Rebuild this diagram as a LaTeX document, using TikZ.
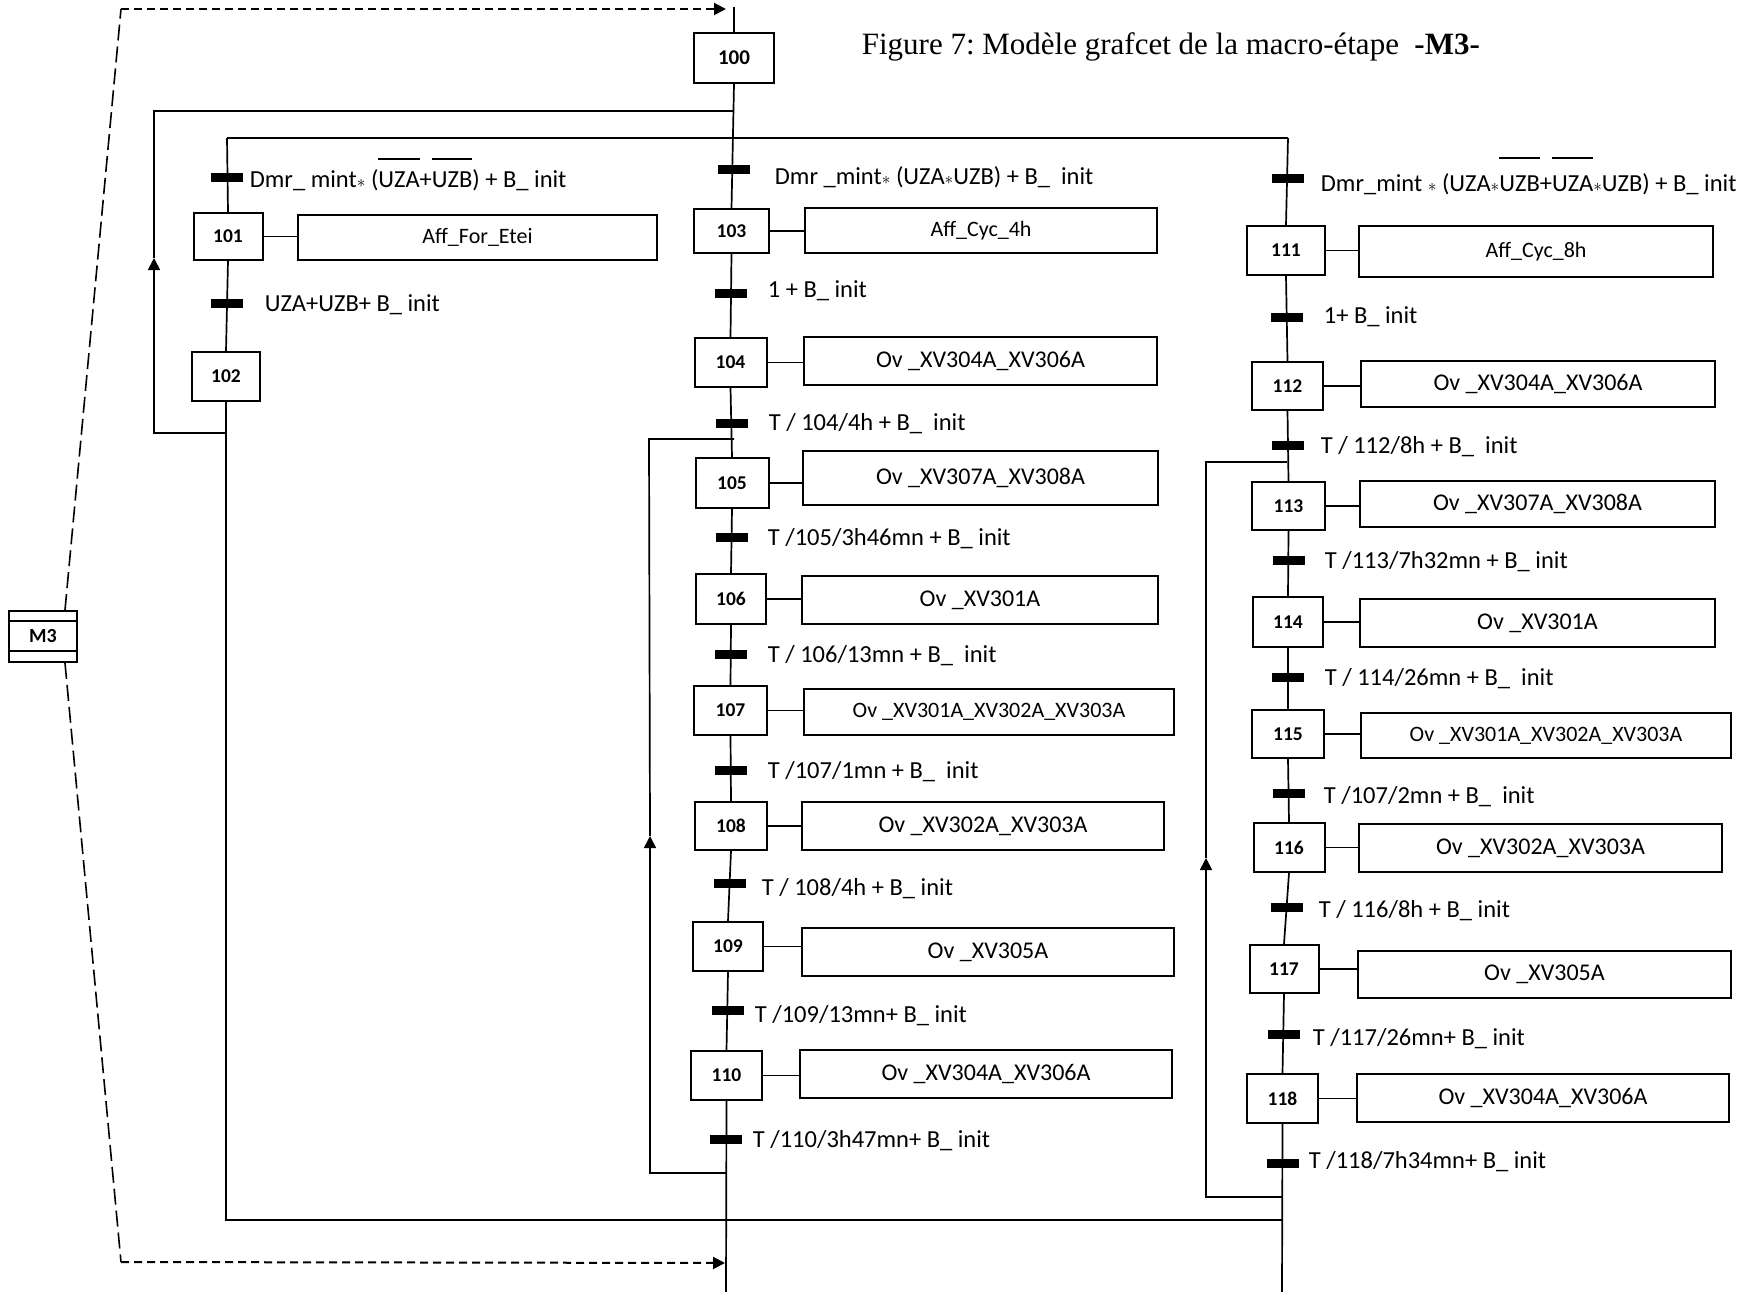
\documentclass[tikz,border=0pt]{standalone}
\usepackage{fontspec}
\setmainfont{Carlito}
\newfontfamily\titlefont{Liberation Serif}
\usetikzlibrary{arrows.meta,calc}
\frenchspacing
\newsavebox\obbox
% word with a raised bar above it (negated variable)
\newcommand\ob[2][28pt]{\sbox\obbox{#2}\rlap{\smash{\raisebox{#1}{\rule{\wd\obbox}{1.6pt}}}}#2}
\newcommand\mul{\ensuremath{\scriptstyle\ast}}
\begin{document}
\begin{tikzpicture}[x=1pt,y=-1pt,
  line width=1.7pt,
  wh/.style 2 args={minimum width=#1pt, minimum height=#2pt},
  stepbox/.style={draw, line width=2pt, inner sep=0pt, font=\fontsize{19.5}{20}\selectfont\bfseries},
  actbox/.style={draw, line width=2pt, inner sep=0pt, font=\fontsize{24}{26}\selectfont},
  small/.style={font=\fontsize{22}{24}\selectfont},
  tbar/.style={fill=black, draw=none, minimum width=32pt, minimum height=9pt, inner sep=0pt},
  tlabel/.style={anchor=base west, inner sep=0pt, font=\fontsize{24.5}{26}\selectfont},
  dashlong/.style={dash pattern=on 16pt off 6pt, line width=1.6pt},
  dashshort/.style={dash pattern=on 8pt off 5pt, line width=2pt},
  arrowend/.style={-{Triangle[length=12pt,width=12pt]}}
]
\fill[white] (0,0) rectangle (1751,1292);
\useasboundingbox (0,0) rectangle (1751,1292);

% title
\node[anchor=base west, inner sep=0pt, font=\titlefont\fontsize{31}{32}\selectfont] (title)
  at (861,55) {Figure 7: Modèle grafcet de la macro-étape\ \ \textbf{-M3-}};

% ---------- macro-step symbol ----------
\node[draw, line width=2pt, inner sep=0pt, wh={68}{51}, font=\fontsize{20}{22}\selectfont\bfseries] (m3) at (43,636.5) {M3};
\draw[line width=2pt] (m3.north west) ++(0,11) -- ++(68,0);
\draw[line width=2pt] (m3.south west) ++(0,-12) -- ++(68,0);

% ---------- column 1 ----------
\node[stepbox, wh={69}{47}] (s101) at (228,236.5) {101};
\node[actbox, small, wh={359}{45}] (a101) at (477.5,237.5) {Aff\_For\_Etei};
\node[stepbox, wh={68}{49}] (s102) at (226,376.5) {102};

% ---------- column 2 ----------
\node[stepbox, wh={80}{50}, font=\fontsize{21}{22}\selectfont\bfseries] (s100) at (734,58) {100};
\node[stepbox, wh={75}{44}] (s103) at (731.5,231) {103};
\node[stepbox, wh={72}{49}] (s104) at (730.5,362.5) {104};
\node[stepbox, wh={73}{50}] (s105) at (732,483) {105};
\node[stepbox, wh={70}{50}] (s106) at (731,599) {106};
\node[stepbox, wh={73}{49}] (s107) at (730.5,710.5) {107};
\node[stepbox, wh={72}{48}] (s108) at (731,826) {108};
\node[stepbox, wh={70}{49}] (s109) at (728,946.5) {109};
\node[stepbox, wh={71}{49}] (s110) at (726.5,1075.5) {110};

\node[actbox, small, wh={352}{45}] (a103) at (981,230.5) {Aff\_Cyc\_4h};
\node[actbox, wh={353}{48}] (a104) at (980.5,361) {Ov \_XV304A\_XV306A};
\node[actbox, wh={355}{54}] (a105) at (980.5,478) {Ov \_XV307A\_XV308A};
\node[actbox, wh={356}{48}] (a106) at (980,600) {Ov \_XV301A};
\node[actbox, small, wh={370}{46}] (a107) at (989,712) {Ov \_XV301A\_XV302A\_XV303A};
\node[actbox, wh={362}{48}] (a108) at (983,826) {Ov \_XV302A\_XV303A};
\node[actbox, wh={372}{48}] (a109) at (988,952) {Ov \_XV305A};
\node[actbox, wh={372}{48}] (a110) at (986,1074) {Ov \_XV304A\_XV306A};

% ---------- column 3 ----------
\node[stepbox, wh={78}{49}] (s111) at (1286,250.5) {111};
\node[stepbox, wh={71}{48}] (s112) at (1287.5,386) {112};
\node[stepbox, wh={73}{48}] (s113) at (1288.5,506) {113};
\node[stepbox, wh={70}{50}] (s114) at (1288,622) {114};
\node[stepbox, wh={72}{48}] (s115) at (1288,734) {115};
\node[stepbox, wh={71}{49}] (s116) at (1289,847.5) {116};
\node[stepbox, wh={69}{48}] (s117) at (1284,969) {117};
\node[stepbox, wh={71}{49}] (s118) at (1282.5,1098.5) {118};

\node[actbox, small, wh={354}{51}] (a111) at (1536,251.5) {Aff\_Cyc\_8h};
\node[actbox, wh={354}{46}] (a112) at (1538,384) {Ov \_XV304A\_XV306A};
\node[actbox, wh={355}{46}] (a113) at (1537.5,504) {Ov \_XV307A\_XV308A};
\node[actbox, wh={355}{48}] (a114) at (1537.5,623) {Ov \_XV301A};
\node[actbox, small, wh={370}{45}] (a115) at (1546,735.5) {Ov \_XV301A\_XV302A\_XV303A};
\node[actbox, wh={363}{48}] (a116) at (1540.5,848) {Ov \_XV302A\_XV303A};
\node[actbox, wh={373}{47}] (a117) at (1544.5,974.5) {Ov \_XV305A};
\node[actbox, wh={372}{48}] (a118) at (1543,1098) {Ov \_XV304A\_XV306A};

% step -> action links
\foreach \n in {101,103,104,105,106,107,108,109,110,111,112,113,114,115,116,117,118}
  \draw (s\n.east) -- (s\n.east -| a\n.west);

% ---------- junction points ----------
\coordinate (c2top) at (734,7);
\coordinate (j0) at (734,111);
\coordinate (d1) at (227,138);
\coordinate (d3) at (1288,138);
\coordinate (c2bot) at (726,1292);
\coordinate (c3bot) at (1282,1292);
\coordinate (c3join) at (1282,1220);
\coordinate (lp1) at (227,433);
\coordinate (lp2a) at (726,1173);
\coordinate (lp2b) at (734,439);
\coordinate (lp3a) at (1282,1197);
\coordinate (lp3b) at (1287,462);
\coordinate (in2top) at (726,9);
\coordinate (in2bot) at (725,1263);

% ---------- links ----------
\draw (c2top) -- (s100.north);
\draw (s100.south) -- (s103.north);
\draw (s103.south) -- (s104.north);
\draw (s104.south) -- (s105.north);
\draw (s105.south) -- (s106.north);
\draw (s106.south) -- (s107.north);
\draw (s107.south) -- (s108.north);
\draw (s108.south) -- (s109.north);
\draw (s109.south) -- (s110.north);
\draw (s110.south) -- (c2bot);

\draw (d1) -- (d3);
\draw (d1) -- (s101.north);
\draw (s101.south) -- (s102.north);
\draw (s102.south) |- (c3join);

\draw (d3) -- (s111.north);
\draw (s111.south) -- (s112.north);
\draw (s112.south) -- (s113.north);
\draw (s113.south) -- (s114.north);
\draw (s114.south) -- (s115.north);
\draw (s115.south) -- (s116.north);
\draw (s116.south) -- (s117.north);
\draw (s117.south) -- (s118.north);
\draw (s118.south) -- (c3bot);

% return loops
\draw[arrowend] (lp1) -- (154,433) -- (154,258);
\draw (154,258) -- (154,111) -- (j0);
\draw[arrowend] (lp2a) -- (650,1173) -- (650,836);
\draw (650,836) -- (649,439) -- (lp2b);
\draw[arrowend] (lp3a) -- (1206,1197) -- (1206,858);
\draw (1206,858) -- (1206,462) -- (lp3b);

% macro-step input / output (dashed)
\draw[dashlong] ($(m3.north)+(22,0)$) -- (121,9);
\draw[dashshort, arrowend] (121,9) -- (in2top);
\draw[dashlong] ($(m3.south)+(22,0)$) -- (121,1262);
\draw[dashshort, arrowend] (121,1262) -- (in2bot);

% ---------- transitions ----------
\node[tbar] (t1a) at (d1 |- 0,178) {};
\node[tlabel] at (249,188) {Dmr\_ mint\mul{} (\ob{UZA}+\ob{UZB}) + B\_ init};
\node[tbar] (t1b) at (227,303) {};
\node[tlabel] at (264,311) {UZA+UZB+ B\_ init};

\node[tbar] (t100) at (734,170) {};
\node[tlabel] at (774,185) {Dmr \_mint\mul{} (UZA\mul{}UZB) + B\_\ \ init};
\node[tbar] (t103) at (731,293) {};
\node[tlabel] at (767,297) {1 + B\_ init};
\node[tbar] (t104) at (731.5,423) {};
\node[tlabel] at (768,430) {T / 104/4h + B\_\ \ init};
\node[tbar] (t105) at (731.5,537) {};
\node[tlabel] at (767,545) {T /105/3h46mn + B\_ init};
\node[tbar] (t106) at (730.5,654) {};
\node[tlabel] at (767,662) {T / 106/13mn + B\_\ \ init};
\node[tbar] (t107) at (731,770) {};
\node[tlabel] at (767,778) {T /107/1mn + B\_\ \ init};
\node[tbar] (t108) at (729.5,883) {};
\node[tlabel] at (761,895) {T / 108/4h + B\_ init};
\node[tbar] (t109) at (727.5,1010) {};
\node[tlabel] at (754,1022) {T /109/13mn+ B\_ init};
\node[tbar] (t110) at (726,1139) {};
\node[tlabel] at (752,1147) {T /110/3h47mn+ B\_ init};

\node[tbar] (t100c) at (1288,179) {};
\node[tlabel] at (1320,192) {Dmr\_mint \mul{} (UZA\mul{}\ob[33pt]{UZB}+\ob[33pt]{UZA}\mul{}UZB) + B\_ init};
\node[tbar] (t111) at (1287,317) {};
\node[tlabel] at (1323,323) {1+ B\_ init};
\node[tbar] (t112) at (1288,445) {};
\node[tlabel] at (1320,453) {T / 112/8h + B\_\ \ init};
\node[tbar] (t113) at (1288.5,560) {};
\node[tlabel] at (1324,568) {T /113/7h32mn + B\_ init};
\node[tbar] (t114) at (1288,677) {};
\node[tlabel] at (1324,685) {T / 114/26mn + B\_\ \ init};
\node[tbar] (t115) at (1288.5,793) {};
\node[tlabel] at (1323,803) {T /107/2mn + B\_\ \ init};
\node[tbar] (t116) at (1287,907) {};
\node[tlabel] at (1318,917) {T / 116/8h + B\_ init};
\node[tbar] (t117) at (1283.5,1034) {};
\node[tlabel] at (1312,1045) {T /117/26mn+ B\_ init};
\node[tbar] (t118) at (1282.5,1163) {};
\node[tlabel] at (1308,1168) {T /118/7h34mn+ B\_ init};
\end{tikzpicture}
\end{document}
